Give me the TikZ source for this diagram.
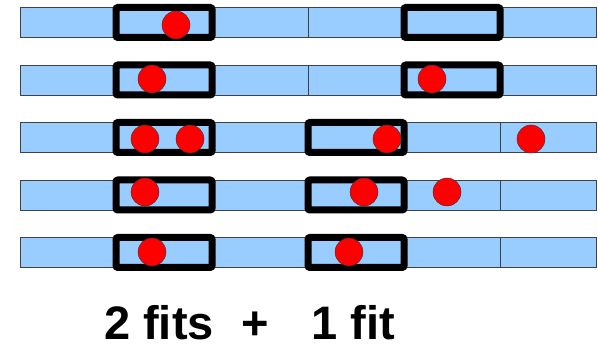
\documentclass[tikz,border=0pt]{standalone}
\usepackage{fontspec}
\setmainfont{Liberation Sans}
\definecolor{barblue}{HTML}{99CCFF}
\definecolor{ballred}{HTML}{FF0000}

\begin{document}
\begin{tikzpicture}[
    x=1pt, y=-1pt,
    cell/.style={rectangle, draw=black!75, fill=barblue, minimum width=96pt, minimum height=30pt, inner sep=0pt},
    window/.style={rectangle, draw=black, line width=7pt, rounded corners=2pt, minimum width=96pt, minimum height=30pt, inner sep=0pt},
    ball/.style={circle, draw=black!80, fill=ballred, minimum size=28pt, inner sep=0pt},
    sumtext/.style={font=\bfseries\fontsize{47}{47}\selectfont, anchor=base, inner sep=0pt}
]
    \useasboundingbox (0,0) rectangle (598,350);

    % the bars, six cells each
    \foreach \r/\y in {1/22.5, 2/80, 3/137.5, 4/195, 5/252.5}
        \foreach \c in {1,...,6}
            \node[cell] (cell-\r-\c) at ({-28+96*\c}, \y) {};

    % windows
    \node[window] (win-1a) at (cell-1-2) {};
    \node[window] (win-1b) at (cell-1-5) {};
    \node[window] (win-2a) at (cell-2-2) {};
    \node[window] (win-2b) at (cell-2-5) {};
    \node[window] (win-3a) at (cell-3-2) {};
    \node[window] (win-3b) at (cell-3-4) {};
    \node[window] (win-4a) at (cell-4-2) {};
    \node[window] (win-4b) at (cell-4-4) {};
    \node[window] (win-5a) at (cell-5-2) {};
    \node[window] (win-5b) at (cell-5-4) {};

    % hits
    \node[ball] (hit-1a) at (176,25) {};
    \node[ball] (hit-2a) at (152,79) {};
    \node[ball] (hit-2b) at (432,79) {};
    \node[ball] (hit-3a) at (145,139) {};
    \node[ball] (hit-3b) at (190,139) {};
    \node[ball] (hit-3c) at (387,139) {};
    \node[ball] (hit-3d) at (531,139) {};
    \node[ball] (hit-4a) at (145,192) {};
    \node[ball] (hit-4b) at (364,192) {};
    \node[ball] (hit-4c) at (447,192) {};
    \node[ball] (hit-5a) at (152,252) {};
    \node[ball] (hit-5b) at (349,252) {};

    \node[sumtext] (left) at (159,340) {2 fits};
    \node[sumtext] (plus) at (255,340) {+};
    \node[sumtext] (right) at (353,340) {1 fit};
\end{tikzpicture}
\end{document}
